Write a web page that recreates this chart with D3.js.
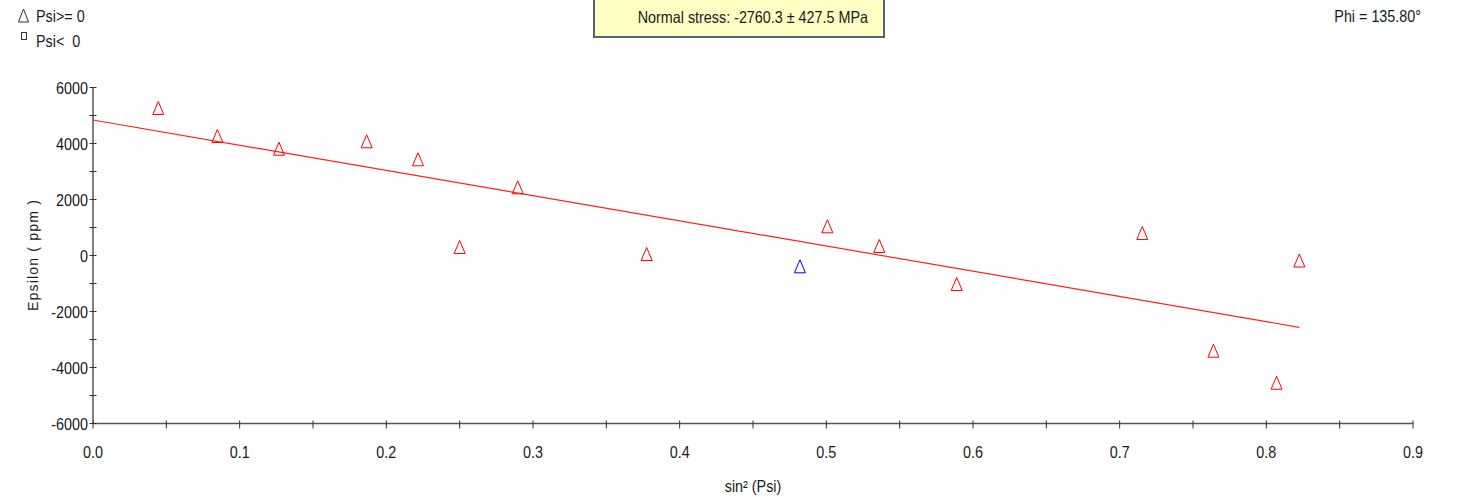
<!DOCTYPE html>
<html><head><meta charset="utf-8">
<script src="https://cdn.jsdelivr.net/npm/d3@7"></script>
<style>
body{margin:0;background:#fff;}
text{font-family:"Liberation Sans",Arial,sans-serif;fill:#1a1a1a;}
</style></head>
<body>
<svg id="c" width="1457" height="497"></svg>
<script>
const sin2Psi = [0.0445,0.0848,0.1268,0.1866,0.2216,0.2500,0.2896,0.3775,0.4820,0.5007,0.5361,0.5889,0.7154,0.7639,0.8070,0.8225];
const epsilon = [5268,4268,3814,4079,3436,304,2436,54,-386,1043,339,-1018,804,-3400,-4543,-179];
const pointColor = ["red","red","red","red","red","red","red","red","blue","red","red","red","red","red","red","red"];
const fitX = [0, 0.8225];
const fitY = [4839, -2564];
const xTicks = [0,0.1,0.2,0.3,0.4,0.5,0.6,0.7,0.8,0.9];
const yTicks = [-6000,-4000,-2000,0,2000,4000,6000];

const svg = d3.select("#c");
const x = d3.scaleLinear().domain([0,0.9]).range([93,1413]);
const y = d3.scaleLinear().domain([-6000,6000]).range([423.5,87.5]);
const axisColor = "#555";

function ntext(px, py, str, anchor, size, sx){
  return svg.append("text")
    .attr("transform",`translate(${px},${py}) scale(${sx||0.87},1)`)
    .attr("text-anchor",anchor||"start")
    .attr("font-size",size||16.5)
    .style("white-space","pre")
    .text(str);
}

// x axis
const gx = svg.append("g");
gx.append("line").attr("x1",x(0)).attr("x2",x(0.9)).attr("y1",y(-6000)).attr("y2",y(-6000)).attr("stroke",axisColor).attr("stroke-width",1.5);
d3.range(0,0.9001,0.05).forEach(v=>{
  gx.append("line").attr("x1",x(v)).attr("x2",x(v)).attr("y1",y(-6000)-3).attr("y2",y(-6000)+5).attr("stroke","#333").attr("stroke-width",1);
});
xTicks.forEach(v=>{ ntext(x(v), 458, v.toFixed(1), "middle"); });
// y axis
const gy = svg.append("g");
gy.append("line").attr("x1",x(0)).attr("x2",x(0)).attr("y1",y(6000)).attr("y2",y(-6000)).attr("stroke",axisColor).attr("stroke-width",1.5);
d3.range(-6000,6001,1000).forEach(v=>{
  gy.append("line").attr("x1",x(0)-3.5).attr("x2",x(0)+3.5).attr("y1",y(v)).attr("y2",y(v)).attr("stroke","#333").attr("stroke-width",1);
});
yTicks.forEach(v=>{ ntext(88, y(v)+6, String(v), "end"); });

// titles
ntext(753, 492, "sin² (Psi)", "middle");
svg.append("text").attr("transform","translate(38,255) rotate(-90)").attr("text-anchor","middle")
  .attr("font-size",14).attr("letter-spacing","1.2").text("Epsilon ( ppm )");

// fit line
svg.append("line").attr("x1",x(fitX[0])).attr("y1",y(fitY[0])).attr("x2",x(fitX[1])).attr("y2",y(fitY[1]))
  .attr("stroke","#ff2020").attr("stroke-width",1.2);

// triangles
const tri = "M0,-6.5L5.5,6.5L-5.5,6.5Z";
svg.append("g").selectAll("path").data(sin2Psi).join("path")
  .attr("d",tri)
  .attr("transform",(d,i)=>`translate(${x(d)},${y(epsilon[i])})`)
  .attr("fill","none").attr("stroke",(d,i)=>pointColor[i]).attr("stroke-width",1);

// legend
svg.append("path").attr("d","M0,-6.5L5,6.5L-5,6.5Z").attr("transform","translate(23.5,15.5)").attr("fill","none").attr("stroke","#333").attr("stroke-width",1);
ntext(36, 22, "Psi>= 0", "start");
svg.append("rect").attr("x",21.5).attr("y",32.5).attr("width",5).attr("height",7).attr("fill","none").attr("stroke","#333").attr("stroke-width",1);
ntext(36, 47, "Psi<  0", "start");

// stress box
svg.append("rect").attr("x",594).attr("y",-3).attr("width",290).attr("height",40).attr("fill","#ffffc4").attr("stroke","#55617d").attr("stroke-width",2);
ntext(868, 23, "Normal stress: -2760.3 ± 427.5 MPa", "end");

// phi
ntext(1421, 22, "Phi = 135.80°", "end");
</script>
</body></html>
